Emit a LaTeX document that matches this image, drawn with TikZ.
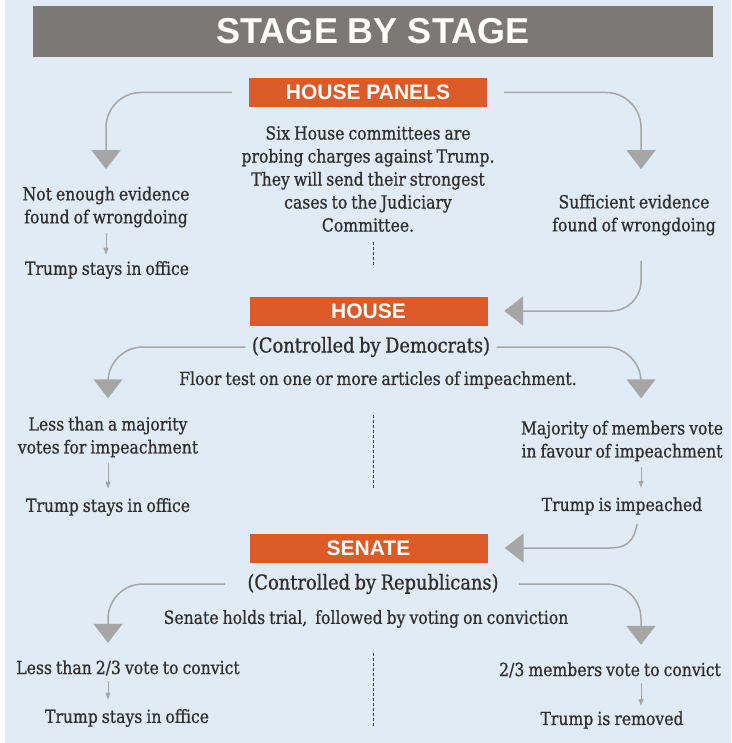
\documentclass[tikz,border=0pt]{standalone}
\usepackage{fontspec}
\setmainfont{DejaVu Serif}[FakeStretch=0.87,FakeBold=0.7,WordSpace=0.8]
\newfontfamily\headfont{Liberation Sans}
\usetikzlibrary{arrows.meta}
\definecolor{bgblue}{HTML}{E1EBF5}
\definecolor{bargray}{HTML}{7B7876}
\definecolor{panelorange}{HTML}{DC5A27}
\definecolor{arrowgray}{HTML}{A6A6A6}
\definecolor{inkgray}{HTML}{2E2E2E}
\begin{document}
\begin{tikzpicture}[x=1pt,y=-1pt,
  every node/.style={font=\fontsize{18}{23}\selectfont,text=inkgray,align=center},
  panel/.style={fill=panelorange,minimum width=238pt,minimum height=29pt,text=white,font=\headfont\bfseries\fontsize{21}{21}\selectfont},
  sub/.style={font=\fontsize{20.5}{22}\selectfont},
  bigarrow/.style={draw=arrowgray,line width=1.5pt,rounded corners=35pt,-{Triangle[width=29pt,length=19pt]}},
  smallarrow/.style={draw=arrowgray,line width=0.8pt,-{Triangle[width=5pt,length=7pt]}},
  divider/.style={draw=black!75,line width=0.6pt,dash pattern=on 3pt off 2pt}]
\useasboundingbox (0,0) rectangle (731,743);
\fill[white] (0,0) rectangle (731,743);
\fill[bgblue] (5,0) rectangle (731,743);
\node [fill=bargray,minimum width=680pt,minimum height=51pt,text=white,font=\headfont\bfseries\fontsize{36}{36}\selectfont] (title) at (373,31.5) {STAGE BY STAGE};
% house panels
\node [panel] (hp) at (368,92.5) {HOUSE PANELS};
\node (hpdesc) at (368,179) {Six House committees are\\probing charges against Trump.\\They will send their strongest\\cases to the Judiciary\\Committee.};
\node (ne) at (106,207) {Not enough evidence\\found of wrongdoing};
\node (nestay) at (107,270) {Trump stays in office};
\node (se) at (634,215) {Sufficient evidence\\found of wrongdoing};
\draw [bigarrow,shorten >=14pt] ([xshift=-17pt]hp.west) -| (ne.north);
\draw [bigarrow,shorten >=22pt] ([xshift=17pt]hp.east) -| ([xshift=7pt]se.north);
\draw [smallarrow,shorten <=2pt,shorten >=3pt] (ne.south) -- (ne.south |- nestay.north);
\draw [divider] (373,242) -- (373,267);
% house
\node [panel] (house) at (368.5,311) {HOUSE};
\draw [bigarrow,rounded corners=30pt,shorten <=22pt,shorten >=16.5pt] ([xshift=7pt]se.south) |- (house.east);
\node [sub] (dem) at (371,347) {(Controlled by Democrats)};
\node (floor) at (378,380) {Floor test on one or more articles of impeachment.};
\node (lm) at (108,437) {Less than a majority\\votes for impeachment};
\node (lmstay) at (108,507) {Trump stays in office};
\node (mj) at (622,441) {Majority of members vote\\in favour of impeachment};
\node (imp) at (622,506) {Trump is impeached};
\draw [bigarrow,shorten >=15pt] ([xshift=-3pt]dem.west) -| (lm.north);
\draw [bigarrow,shorten >=19pt] ([xshift=3pt]dem.east) -| ([xshift=19pt]mj.north);
\draw [smallarrow,shorten <=2pt,shorten >=6pt] (lm.south) -- (lm.south |- lmstay.north);
\draw [smallarrow,shorten <=2pt,shorten >=6pt] ([xshift=19pt]mj.south) -- ([xshift=19pt]imp.north);
\draw [divider] (373,415) -- (373,488);
% senate
\node [panel] (senate) at (368.5,548) {SENATE};
\draw [bigarrow,sharp corners] ([xshift=15pt,yshift=-6pt]imp.south) .. controls +(-3,16) and +(18,0) .. ([xshift=122pt]senate.east) -- ([xshift=17pt]senate.east);
\node [sub] (rep) at (373,584) {(Controlled by Republicans)};
\node (trial) at (366,619) {Senate holds trial,~ followed by voting on conviction};
\node (lt) at (128,668) {Less than 2/3 vote to convict};
\node (ltstay) at (127,718) {Trump stays in office};
\node (tt) at (610,670) {2/3 members vote to convict};
\node (removed) at (612,720) {Trump is removed};
\draw [bigarrow,shorten >=14pt] ([xshift=-19pt]rep.west) -| ([xshift=-20pt]lt.north);
\draw [bigarrow,shorten >=14pt] ([xshift=17pt]rep.east) -| ([xshift=31pt]tt.north);
\draw [smallarrow,shorten <=2pt,shorten >=6pt] ([xshift=-20pt]lt.south) -- ([xshift=-20pt]lt.south |- ltstay.north);
\draw [smallarrow,shorten <=2pt,shorten >=2pt] ([xshift=31pt]tt.south) -- ([xshift=31pt]tt.south |- removed.north);
\draw [divider] (373,653) -- (373,727);
\end{tikzpicture}
\end{document}
